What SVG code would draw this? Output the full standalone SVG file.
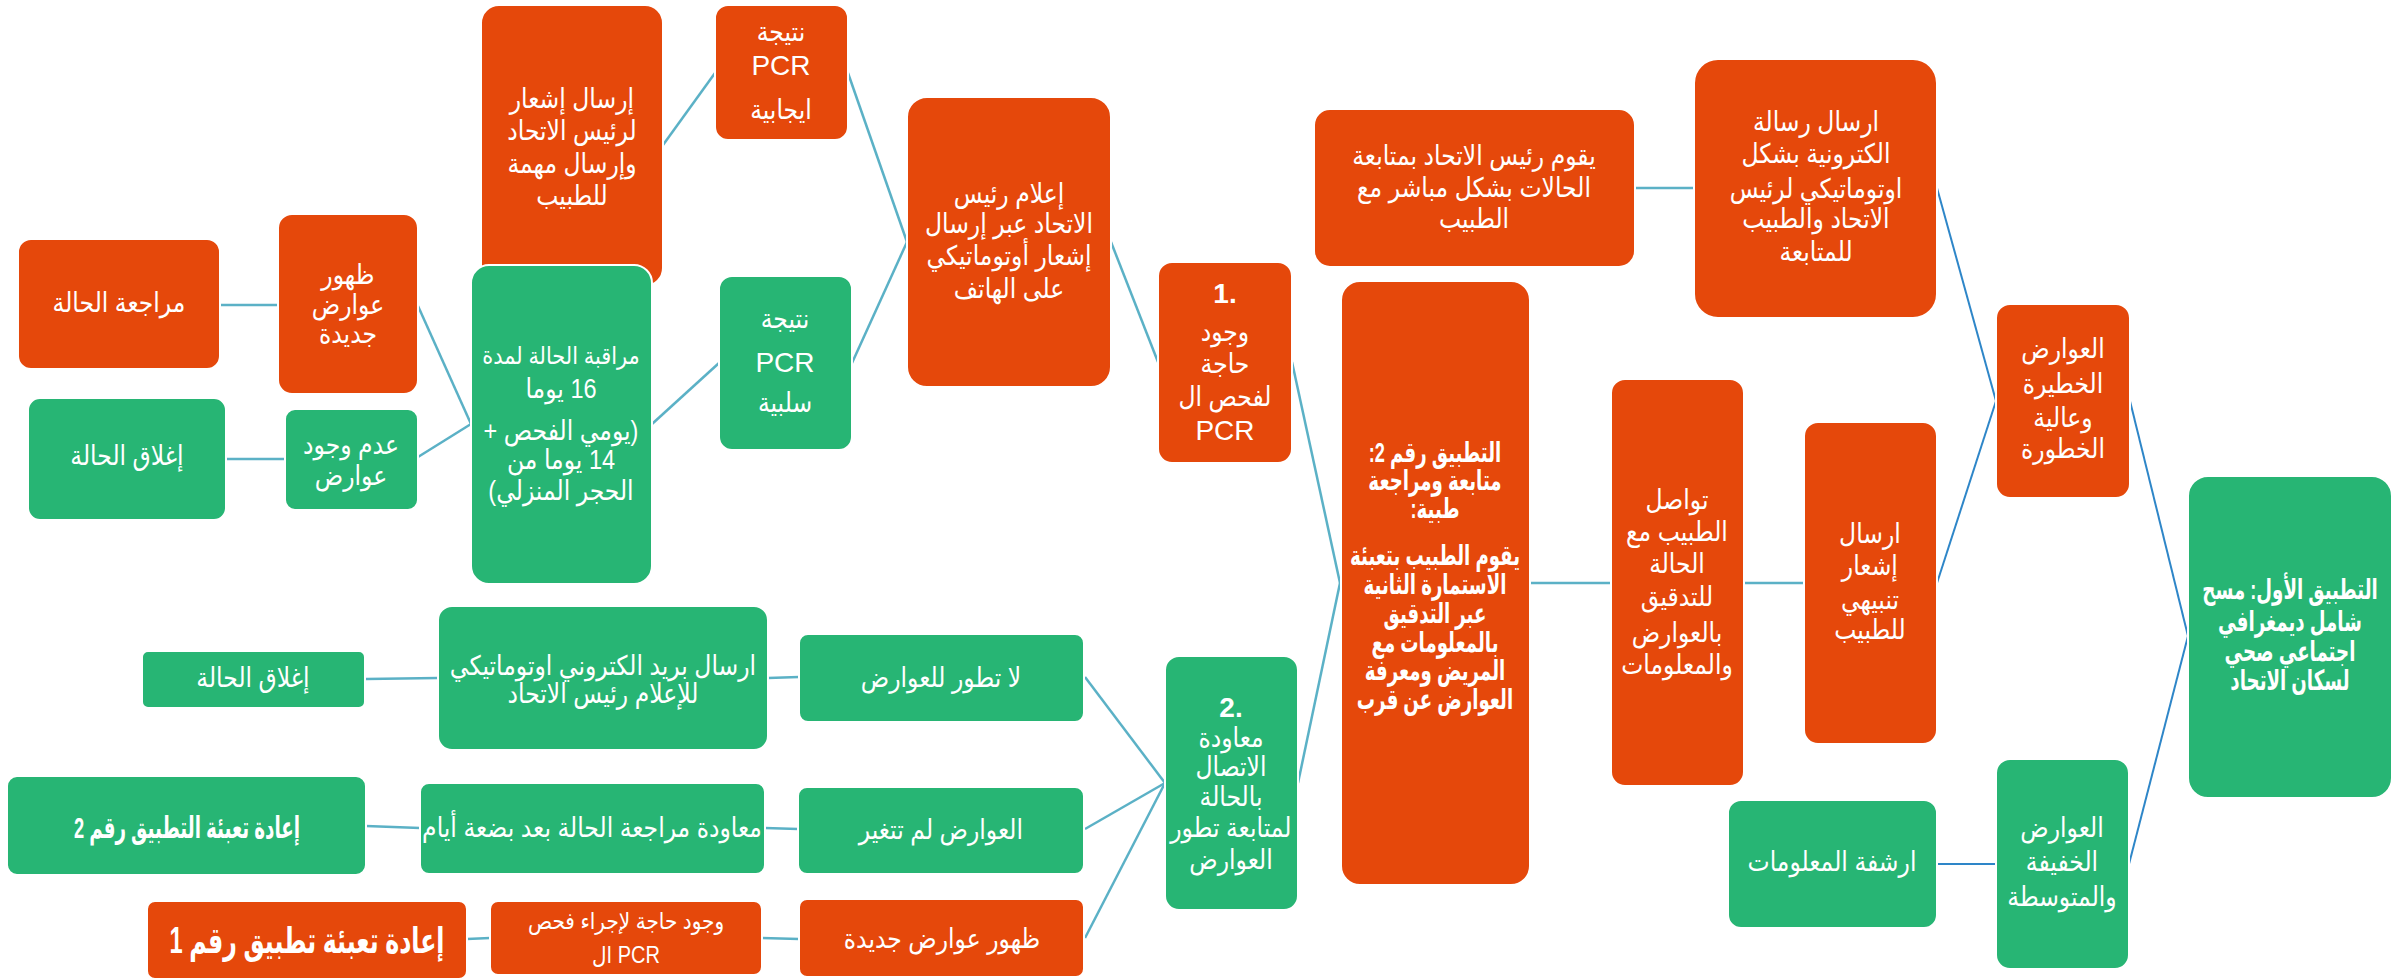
<svg xmlns="http://www.w3.org/2000/svg" width="2402" height="980" viewBox="0 0 2402 980">
<style>
.o{fill:#E5480B;stroke:#fff;stroke-width:2}
.g{fill:#27B574;stroke:#fff;stroke-width:2}
text{font-family:"Liberation Sans","DejaVu Sans",sans-serif;fill:#fff;text-anchor:middle;dominant-baseline:central;font-size:27px;transform-box:fill-box;transform-origin:center;transform:scaleX(.87)}
.r{direction:rtl}
.b{font-weight:bold;font-size:28px;transform:scaleX(.65)}
.n{font-size:28px;transform:none}
.t{transform:none}
.s{font-size:23px}
.c1{stroke:#5BB1C6;stroke-width:2.5;fill:none}
.c2{stroke:#2E86C8;stroke-width:2;fill:none}
</style>
<rect width="2402" height="980" fill="#fff"/>
<g id="connectors">
<line class="c1" x1="221" y1="305" x2="277" y2="305"/>
<line class="c1" x1="226" y1="459" x2="285" y2="459"/>
<line class="c1" x1="418" y1="306" x2="471" y2="424"/>
<line class="c1" x1="418" y1="457" x2="471" y2="424"/>
<line class="c1" x1="663" y1="145" x2="715" y2="73"/>
<line class="c1" x1="652" y1="424" x2="719" y2="363"/>
<line class="c1" x1="848" y1="73" x2="907" y2="242"/>
<line class="c1" x1="852" y1="363" x2="907" y2="242"/>
<line class="c1" x1="1111" y1="242" x2="1158" y2="362"/>
<line class="c1" x1="1292" y1="362" x2="1340" y2="583"/>
<line class="c1" x1="1298" y1="783" x2="1340" y2="583"/>
<line class="c1" x1="1635" y1="188" x2="1694" y2="188"/>
<line class="c1" x1="1530" y1="583" x2="1611" y2="583"/>
<line class="c1" x1="1744" y1="583" x2="1804" y2="583"/>
<line class="c2" x1="1937" y1="188" x2="1996" y2="401"/>
<line class="c2" x1="1937" y1="583" x2="1996" y2="401"/>
<line class="c2" x1="2130" y1="401" x2="2188" y2="636"/>
<line class="c2" x1="2129" y1="864" x2="2188" y2="636"/>
<line class="c2" x1="1937" y1="864" x2="1996" y2="864"/>
<line class="c1" x1="1085" y1="677" x2="1165" y2="783"/>
<line class="c1" x1="1085" y1="829" x2="1165" y2="783"/>
<line class="c1" x1="1085" y1="938" x2="1165" y2="783"/>
<line class="c1" x1="366" y1="679" x2="438" y2="678"/>
<line class="c1" x1="768" y1="678" x2="799" y2="677"/>
<line class="c1" x1="366" y1="826" x2="420" y2="828"/>
<line class="c1" x1="765" y1="828" x2="798" y2="829"/>
<line class="c1" x1="467" y1="939" x2="490" y2="938"/>
<line class="c1" x1="762" y1="938" x2="799" y2="939"/>
</g>
<g id="n1"><rect class="o" x="481" y="5" width="182" height="281" rx="18"/>
<text class="r" x="572" y="98">إرسال إشعار</text><text class="r" x="572" y="130">لرئيس الاتحاد</text><text class="r" x="572" y="163">وإرسال مهمة</text><text class="r" x="572" y="195">للطبيب</text></g>
<g id="n2"><rect class="o" x="715" y="5" width="133" height="135" rx="13"/>
<text class="r" x="781" y="31">نتيجة</text><text class="n" x="781" y="65">PCR</text><text class="r" x="781" y="109">ايجابية</text></g>
<g id="n3"><rect class="o" x="278" y="214" width="140" height="180" rx="14"/>
<text class="r" x="348" y="274">ظهور</text><text class="r" x="348" y="304">عوارض</text><text class="r" x="348" y="333">جديدة</text></g>
<g id="n4"><rect class="o" x="18" y="239" width="202" height="130" rx="13"/>
<text class="r" x="119" y="302">مراجعة الحالة</text></g>
<g id="n5"><rect class="g" x="471" y="265" width="181" height="319" rx="18"/>
<text class="r" x="561" y="356" style="font-size:24px">مراقبة الحالة لمدة</text><text class="r" x="561" y="388">16 يوما</text><text class="r" x="561" y="430">(يومي الفحص +</text><text class="r" x="561" y="459">14 يوما من</text><text class="r" x="561" y="490">الحجر المنزلي)</text></g>
<g id="n6"><rect class="g" x="719" y="276" width="133" height="174" rx="13"/>
<text class="r" x="785" y="318">نتيجة</text><text class="n" x="785" y="362">PCR</text><text class="r" x="785" y="402">سلبية</text></g>
<g id="n7"><rect class="g" x="28" y="398" width="198" height="122" rx="12"/>
<text class="r" x="127" y="455">إغلاق الحالة</text></g>
<g id="n8"><rect class="g" x="285" y="409" width="133" height="101" rx="10"/>
<text class="r" x="351" y="444">عدم وجود</text><text class="r" x="351" y="475">عوارض</text></g>
<g id="n9"><rect class="o" x="907" y="97" width="204" height="290" rx="20"/>
<text class="r" x="1009" y="193">إعلام رئيس</text><text class="r" x="1009" y="223">الاتحاد عبر إرسال</text><text class="r" x="1009" y="255">إشعار أوتوماتيكي</text><text class="r" x="1009" y="288">على الهاتف</text></g>
<g id="n10"><rect class="o" x="1158" y="262" width="134" height="201" rx="14"/>
<text class="n" x="1225" y="293" font-weight="bold">1.</text><text class="r" x="1225" y="331">وجود</text><text class="r" x="1225" y="363">حاجة</text><text class="r" x="1225" y="396">لفحص ال</text><text class="n" x="1225" y="430">PCR</text></g>
<g id="n11"><rect class="o" x="1314" y="109" width="321" height="158" rx="16"/>
<text class="r" x="1474" y="155">يقوم رئيس الاتحاد بمتابعة</text><text class="r" x="1474" y="187">الحالات بشكل مباشر مع</text><text class="r" x="1474" y="218">الطبيب</text></g>
<g id="n12"><rect class="o" x="1694" y="59" width="243" height="259" rx="24"/>
<text class="r" x="1816" y="121">ارسال  رسالة</text><text class="r" x="1816" y="153">الكترونية بشكل</text><text class="r" x="1816" y="188">اوتوماتيكي لرئيس</text><text class="r" x="1816" y="218">الاتحاد والطبيب</text><text class="r" x="1816" y="251">للمتابعة</text></g>
<g id="n13"><rect class="o" x="1341" y="281" width="189" height="604" rx="19"/>
<text class="r b" x="1435" y="453">التطبيق رقم 2:</text><text class="r b" x="1435" y="481">متابعة ومراجعة</text><text class="r b" x="1435" y="509">طبية:</text><text class="r b" x="1435" y="556">يقوم الطبيب بتعبئة</text><text class="r b" x="1435" y="585">الاستمارة الثانية</text><text class="r b" x="1435" y="614">عبر التدقيق</text><text class="r b" x="1435" y="643">بالمعلومات مع</text><text class="r b" x="1435" y="671">المريض ومعرفة</text><text class="r b" x="1435" y="700">العوارض عن قرب</text></g>
<g id="n14"><rect class="o" x="1611" y="379" width="133" height="407" rx="14"/>
<text class="r" x="1677" y="499">تواصل</text><text class="r" x="1677" y="531">الطبيب مع</text><text class="r" x="1677" y="563">الحالة</text><text class="r" x="1677" y="596">للتدقيق</text><text class="r" x="1677" y="632">بالعوارض</text><text class="r" x="1677" y="664">والمعلومات</text></g>
<g id="n15"><rect class="o" x="1804" y="422" width="133" height="322" rx="14"/>
<text class="r" x="1870" y="533">ارسال</text><text class="r" x="1870" y="565">إشعار</text><text class="r" x="1870" y="599">تنبيهي</text><text class="r" x="1870" y="629">للطبيب</text></g>
<g id="n16"><rect class="o" x="1996" y="304" width="134" height="194" rx="14"/>
<text class="r" x="2063" y="348">العوارض</text><text class="r" x="2063" y="383">الخطيرة</text><text class="r" x="2063" y="417">وعالية</text><text class="r" x="2063" y="448">الخطورة</text></g>
<g id="n17"><rect class="g" x="2188" y="476" width="204" height="322" rx="20"/>
<text class="r b" x="2290" y="590">التطبيق الأول: مسح</text><text class="r b" x="2290" y="622">شامل ديمغرافي</text><text class="r b" x="2290" y="652">اجتماعي صحي</text><text class="r b" x="2290" y="681">لسكان الاتحاد</text></g>
<g id="n18"><rect class="g" x="1996" y="759" width="133" height="210" rx="14"/>
<text class="r" x="2062" y="827">العوارض</text><text class="r" x="2062" y="861">الخفيفة</text><text class="r" x="2062" y="896">والمتوسطة</text></g>
<g id="n19"><rect class="g" x="1728" y="800" width="209" height="128" rx="13"/>
<text class="r" x="1832" y="861">ارشفة المعلومات</text></g>
<g id="n20"><rect class="g" x="1165" y="656" width="133" height="254" rx="14"/>
<text class="n" x="1231" y="707" font-weight="bold">2.</text><text class="r" x="1231" y="737">معاودة</text><text class="r" x="1231" y="766">الاتصال</text><text class="r" x="1231" y="796">بالحالة</text><text class="r" x="1231" y="827">لمتابعة تطور</text><text class="r" x="1231" y="859">العوارض</text></g>
<g id="n21"><rect class="g" x="799" y="634" width="285" height="88" rx="9"/>
<text class="r" x="941" y="677">لا تطور للعوارض</text></g>
<g id="n22"><rect class="g" x="798" y="787" width="286" height="87" rx="9"/>
<text class="r" x="941" y="829">العوارض لم تتغير</text></g>
<g id="n23"><rect class="o" x="799" y="899" width="285" height="78" rx="8"/>
<text class="r" x="942" y="938">ظهور عوارض جديدة</text></g>
<g id="n24"><rect class="g" x="438" y="606" width="330" height="144" rx="14"/>
<text class="r" x="603" y="665">ارسال بريد الكتروني اوتوماتيكي</text><text class="r" x="603" y="693">للإعلام رئيس الاتحاد</text></g>
<g id="n25"><rect class="g" x="142" y="651" width="223" height="57" rx="6"/>
<text class="r" x="253" y="677">إغلاق الحالة</text></g>
<g id="n26"><rect class="g" x="420" y="783" width="345" height="91" rx="9"/>
<text class="r" x="592" y="827">معاودة مراجعة الحالة بعد بضعة أيام</text></g>
<g id="n27"><rect class="g" x="7" y="776" width="359" height="99" rx="10"/>
<text class="r b t" x="187" y="827" style="font-size:30px" textLength="226" lengthAdjust="spacingAndGlyphs">إعادة تعبئة التطبيق رقم 2</text></g>
<g id="n28"><rect class="o" x="490" y="901" width="272" height="74" rx="8"/>
<text class="r s" x="626" y="921">وجود حاجة لإجراء فحص</text><text class="s" x="626" y="955">ال PCR</text></g>
<g id="n29"><rect class="o" x="147" y="901" width="320" height="78" rx="8"/>
<text class="r b t" x="307" y="940" style="font-size:36px" textLength="275" lengthAdjust="spacingAndGlyphs">إعادة تعبئة تطبيق رقم 1</text></g>
</svg>
